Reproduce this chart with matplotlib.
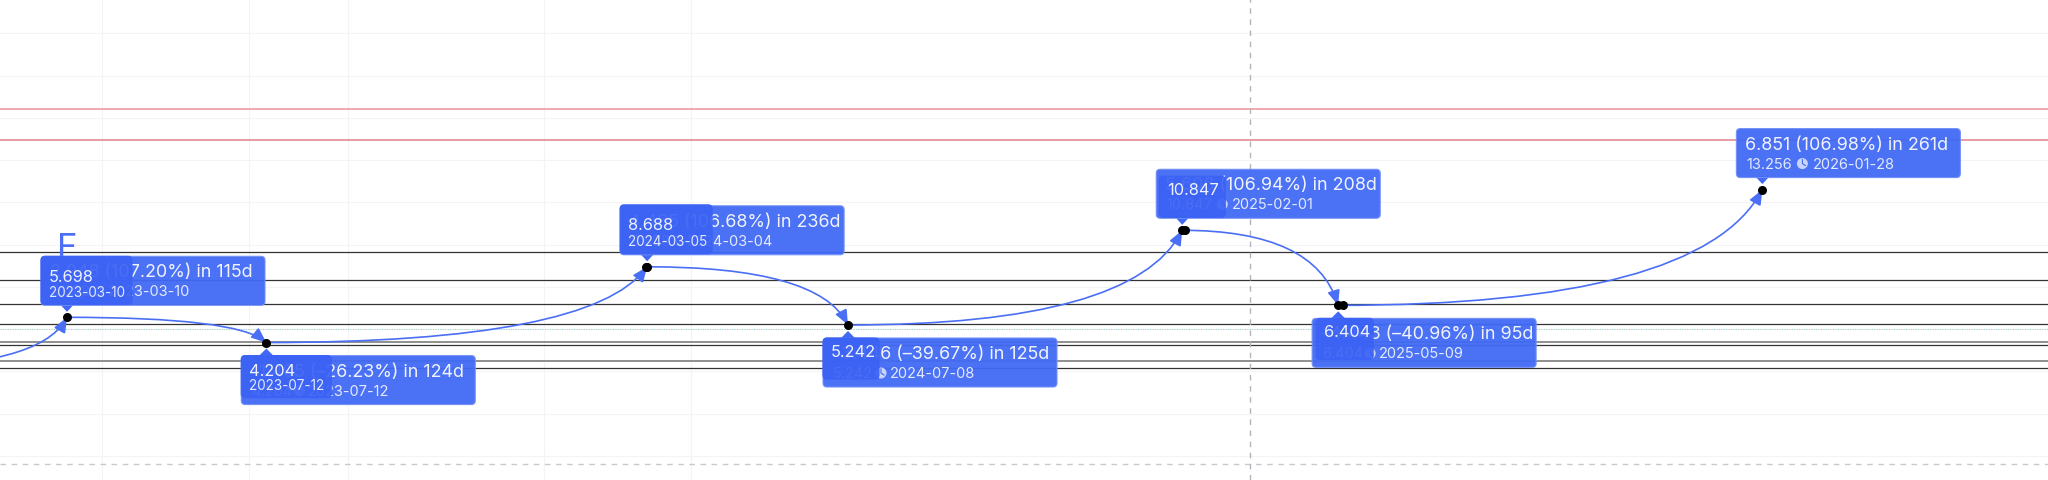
import matplotlib
matplotlib.use("Agg")
import matplotlib.dates as mdates
import matplotlib.pyplot as plt
import matplotlib.transforms as mtransforms
import numpy as np
from matplotlib.patches import Circle, FancyArrowPatch, FancyBboxPatch, Polygon
from matplotlib.path import Path

plt.rcParams['font.family'] = ['Inter', 'DejaVu Sans']

# pivots, the first one sits off the left edge
pivot_dates = ["2022-11-15", "2023-03-10", "2023-07-12", "2024-03-05",
               "2024-07-08", "2025-02-01", "2025-05-09", "2026-01-28"]
pivot_values = [2.750, 5.698, 4.204, 8.688, 5.242, 10.847, 6.404, 13.256]

# a second dot next to some pivots
extra_dates = ["2024-03-04", "2025-02-03", "2025-05-12"]
extra_values = [8.688, 10.847, 6.404]

move_labels = ["2.948 (107.20%) in 115d", "\u20131.495 (\u201326.23%) in 124d",
               "4.485 (106.68%) in 236d", "\u20133.446 (\u201339.67%) in 125d",
               "5.606 (106.94%) in 208d", "\u20134.443 (\u201340.96%) in 95d",
               "6.851 (106.98%) in 261d"]
price_labels = ["5.698", "4.204", "8.688", "5.242", "10.847", "6.404", "13.256"]
date_labels = ["2023-03-10", "2023-07-12", "2024-03-04", "2024-07-08",
               "2025-02-01", "2025-05-09", "2026-01-28"]
front_values = ["5.698", "4.204", "8.688", "5.242", "10.847", "6.404", None]
front_dates = ["2023-03-10", "2023-07-12", "2024-03-05", None, None, None, None]

black_levels = [9.56, 7.91, 6.48, 5.30, 4.06, 2.70]
gray_levels = [4.25, 3.11]
red_levels = [18.03, 16.17]
grid_levels = [22.5, 20, 17.5, 15, 12.5, 10, 7.5, 5, 2.5, 0, -2.5]
grid_dates = ["2023-04-01", "2023-07-01", "2023-09-01", "2024-01-01", "2024-04-01"]
teal_level = 4.98
bottom_level = -2.98
now_date = "2025-03-15"

BLUE = "#4169f5"
LINE_BLUE = "#4a6ff5"
FRONT_BLUE = "#3b62f4"

# box layout in pixels from the pivot
back_lefts = [-26, -25, -27, -25, -26, -26, -26]
back_widths = [224, 234, 224, 234, 224, 224, 224]
front_boxes = [(-26, -61, 91, 48), (-25, 13, 90, 42), (-27, -62, 92, 49),
               (-25, 13, 56, 41), (-23, -54, 66, 41), (-22, 13, 57, 41)]
front_text_y = [(20, 36), (15, 29), (20, 36), (13, None), (13, None), (13, None)]


def to_num(dates):
    return mdates.date2num(np.array(dates, dtype="datetime64[D]"))


x_pivots = to_num(pivot_dates)
y_pivots = np.array(pivot_values)

fig = plt.figure(figsize=(20.48, 4.81), dpi=100)
ax = fig.add_axes([0, 0, 1, 1])

# pixel calibration from the reference: 1.607 px per day, 16.9 px per unit
ax.set_xlim(x_pivots[1] - 67 / 1.607, x_pivots[1] + (2048 - 67) / 1.607)
ax.set_ylim(5.698 - (481 - 318.3) / 16.9, 5.698 + 318.3 / 16.9)
ax.axis("off")

for level in grid_levels:
    ax.axhline(level, color="#f4f4f6", lw=0.8, zorder=1)
for d in to_num(grid_dates):
    ax.axvline(d, color="#f4f4f6", lw=0.8, zorder=1)

ax.axhline(red_levels[0], color="#efa2aa", lw=1.3, zorder=2)
ax.axhline(red_levels[1], color="#e27e88", lw=1.1, zorder=2)
for level in gray_levels:
    ax.axhline(level, color="#8f8f8f", lw=1.4, zorder=2)
for level in black_levels:
    ax.axhline(level, color="#333333", lw=0.9, zorder=2)
ax.axhline(teal_level, color="#8fd0c8", lw=0.7, ls=(0, (1, 1.5)), zorder=2)
ax.axhline(bottom_level, color="#c8c8d0", lw=1.0, ls=(0, (4, 4)), zorder=2)
ax.axvline(to_num([now_date])[0], color="#b4b4ba", lw=1.0, ls=(0, (4, 4)), zorder=2)

ax.text(x_pivots[1], 5.698 + 69 / 16.9, "F", color=LINE_BLUE, fontsize=25, ha="center",
        va="center", zorder=3)

# curved moves between pivots
for i in range(len(x_pivots) - 1):
    x0, y0, x1, y1 = x_pivots[i], y_pivots[i], x_pivots[i + 1], y_pivots[i + 1]
    path = Path([(x0, y0), (x0 + 0.85 * (x1 - x0), y0), (x1, y1)],
                [Path.MOVETO, Path.CURVE3, Path.CURVE3])
    ax.add_patch(FancyArrowPatch(path=path, arrowstyle="-|>,head_length=0.6,head_width=0.25",
                                 mutation_scale=15, color=LINE_BLUE, lw=1.2, zorder=4,
                                 transform=ax.transData))

ax.plot(x_pivots[1:], y_pivots[1:], "o", color="black", ms=6.5, mew=0, zorder=5)
ax.plot(to_num(extra_dates), extra_values, "o", color="black", ms=6.5, mew=0, zorder=5)


def pixel_frame(x, y):
    # offsets in screen pixels from a data point, y pointing down
    px, py = ax.transData.transform((x, y))
    return mtransforms.Affine2D().scale(1, -1).translate(px, py)


def rounded_box(frame, left, top, width, height, zorder, color, edge, alpha):
    ax.add_patch(FancyBboxPatch((left + 3, top + 3), width - 6, height - 6,
                                boxstyle="round,pad=3,rounding_size=4", fc=color,
                                ec=edge, lw=0.8, alpha=alpha,
                                transform=frame, zorder=zorder))


# price/date labels: the wide box sits behind a narrower one
for i in range(7):
    x, y = x_pivots[i + 1], y_pivots[i + 1]
    frame = pixel_frame(x, y)
    going_up = y_pivots[i + 1] > y_pivots[i]
    left, width = back_lefts[i], back_widths[i]
    top = -61 if going_up else 13
    tip = -5.5 if going_up else 6
    base = -13 if going_up else 13
    ax.add_patch(Polygon([(-7, base), (7, base), (0, tip)], closed=True, fc=BLUE,
                         ec="none", transform=frame, zorder=6))
    rounded_box(frame, left, top, width, 49, 6, BLUE, "#7390f7", 0.95)
    ax.text(left + 9, top + 15.5, move_labels[i], color="white", alpha=0.92, fontsize=12.9,
            va="center", transform=frame, zorder=7)
    ax.text(left + 10, top + 35, price_labels[i], color="white", alpha=0.85, fontsize=10.5,
            va="center", transform=frame, zorder=7)
    short_price = len(price_labels[i]) == 5
    icon_x = left + (58 if short_price else 66)
    date_x = left + (67 if short_price else 76)
    ax.add_patch(Circle((icon_x, top + 35), 5.5, fc="#c9d4fc", ec="none",
                        transform=frame, zorder=7))
    ax.plot([icon_x, icon_x, icon_x + 3], [top + 31, top + 35, top + 37], color=BLUE,
            lw=0.8, transform=frame, zorder=7)
    ax.text(date_x, top + 35, date_labels[i], color="white", alpha=0.85, fontsize=10.5,
            va="center", transform=frame, zorder=7)

    if front_values[i] is None:
        continue
    f_left, f_top, f_width, f_height = front_boxes[i]
    rounded_box(frame, f_left, f_top, f_width, f_height, 8, FRONT_BLUE, FRONT_BLUE, 0.92)
    y_value, y_date = front_text_y[i]
    ax.text(f_left + 8, f_top + y_value, front_values[i], color="white", alpha=0.92,
            fontsize=11.8, va="center", transform=frame, zorder=9)
    if front_dates[i] is not None:
        ax.text(f_left + 8, f_top + y_date, front_dates[i], color="white", alpha=0.85,
                fontsize=9.7, va="center", transform=frame, zorder=9)

fig.savefig("out.png", dpi=100)
